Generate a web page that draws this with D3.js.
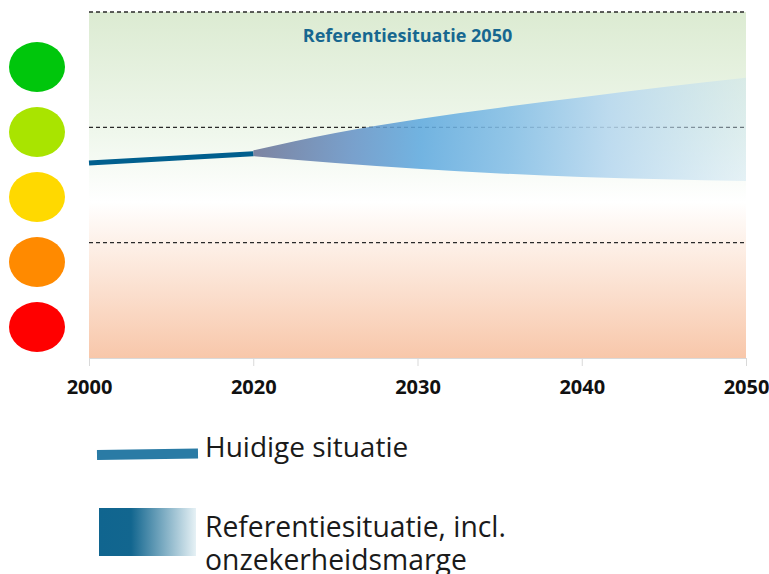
<!DOCTYPE html>
<html>
<head>
<meta charset="utf-8">
<script src="https://cdn.jsdelivr.net/npm/d3@7"></script>
<style>
  html, body { margin: 0; padding: 0; background: #fff; }
  svg { display: block; }
</style>
</head>
<body>
<div id="chart"></div>
<script>
// tick years on the x axis (equally spaced, not linear in time)
const tickYears = [2000, 2020, 2030, 2040, 2050];

// current situation line
const currentYears = [2000, 2020];
const currentValues = [1.69, 1.77];

// reference situation incl. uncertainty margin
const bandYears = [2020, 2025, 2030, 2035, 2040, 2045, 2050];
const bandUpper = [1.80, 1.95, 2.07, 2.17, 2.26, 2.35, 2.43];
const bandLower = [1.75, 1.69, 1.64, 1.60, 1.57, 1.55, 1.535];

// score classes (traffic light) and class boundaries
const classes = ["zeer goed", "goed", "matig", "ontoereikend", "slecht"];
const classColors = ["#00c60c", "#a9e400", "#ffd900", "#ff8a00", "#ff0000"];
const boundaries = [1, 2, 3];

const title = "Referentiesituatie 2050";
const legendLabels = ["Huidige situatie", ["Referentiesituatie, incl.", "onzekerheidsmarge"]];

const width = 769, height = 574;
const plot = { left: 89, right: 746, top: 12, bottom: 358 };

const svg = d3.select("#chart").append("svg")
  .attr("width", width)
  .attr("height", height);

const defs = svg.append("defs");

// background gradient: green on top, white in the middle, salmon at the bottom
const bg = defs.append("linearGradient").attr("id", "bg")
  .attr("x1", 0).attr("y1", 0).attr("x2", 0).attr("y2", 1);
bg.append("stop").attr("offset", "0%").attr("stop-color", "#dcebd2");
bg.append("stop").attr("offset", "35%").attr("stop-color", "#eff7ec");
bg.append("stop").attr("offset", "55%").attr("stop-color", "#ffffff");
bg.append("stop").attr("offset", "68%").attr("stop-color", "#fdefe6");
bg.append("stop").attr("offset", "100%").attr("stop-color", "#f8c7aa");

// band gradient, left to right
const bandGrad = defs.append("linearGradient").attr("id", "band")
  .attr("x1", 0).attr("y1", 0).attr("x2", 1).attr("y2", 0);
[["0%", "#6c7496", 1], ["20%", "#6894c7", 1], ["34%", "#60aadf", 1],
 ["52%", "#84bee6", 1], ["72%", "#b6d7ef", 1], ["100%", "#c4e0f0", 0.45]]
  .forEach(([o, c, a]) => bandGrad.append("stop").attr("offset", o)
    .attr("stop-color", c).attr("stop-opacity", a));

// legend gradient
const legGrad = defs.append("linearGradient").attr("id", "leg")
  .attr("x1", 0).attr("y1", 0).attr("x2", 1).attr("y2", 0);
legGrad.append("stop").attr("offset", "0%").attr("stop-color", "#10658f");
legGrad.append("stop").attr("offset", "33%").attr("stop-color", "#12668f");
legGrad.append("stop").attr("offset", "100%").attr("stop-color", "#e6f1f5");

// scales
const x = d3.scaleLinear()
  .domain(tickYears)
  .range(tickYears.map((d, i) => plot.left + i * (plot.right - plot.left) / (tickYears.length - 1)));
const y = d3.scaleLinear().domain([0, 3]).range([plot.bottom, plot.top]);
const yClass = d3.scalePoint().domain(classes).range([67, 327]);

// background
svg.append("rect")
  .attr("x", plot.left).attr("y", plot.top)
  .attr("width", plot.right - plot.left).attr("height", plot.bottom - plot.top)
  .attr("fill", "url(#bg)");

// dashed class boundaries
svg.append("g").selectAll("line").data(boundaries).join("line")
  .attr("x1", plot.left).attr("x2", plot.right)
  .attr("y1", d => y(d)).attr("y2", d => y(d))
  .attr("stroke", "#2a2a2a").attr("stroke-width", 1.4)
  .attr("stroke-dasharray", "4,3");

// x axis
const xAxis = svg.append("g")
  .attr("transform", `translate(0,${plot.bottom})`)
  .call(d3.axisBottom(x).tickValues(tickYears).tickFormat(d3.format("d")).tickSize(8).tickPadding(14));
xAxis.select(".domain").attr("stroke", "#d9d9d9");
xAxis.selectAll(".tick line").attr("stroke", "#d9d9d9");
xAxis.selectAll(".tick text")
  .attr("font-family", "'Open Sans', sans-serif")
  .attr("font-weight", 700)
  .attr("font-size", 20)
  .attr("fill", "#111");

// uncertainty band
const bandData = bandYears.map((d, i) => ({ year: d, lo: bandLower[i], hi: bandUpper[i] }));
svg.append("path")
  .datum(bandData)
  .attr("fill", "url(#band)")
  .attr("fill-opacity", 0.88)
  .attr("d", d3.area()
    .x(d => x(d.year))
    .y0(d => y(d.lo))
    .y1(d => y(d.hi))
    .curve(d3.curveMonotoneX));

// current situation line
const currentData = currentYears.map((d, i) => ({ year: d, value: currentValues[i] }));
svg.append("path")
  .datum(currentData)
  .attr("fill", "none")
  .attr("stroke", "#005f8e")
  .attr("stroke-width", 5)
  .attr("d", d3.line().x(d => x(d.year)).y(d => y(d.value)));

// title
svg.append("text")
  .attr("x", x(2030) - 10).attr("y", 42)
  .attr("text-anchor", "middle")
  .attr("font-family", "'Open Sans', sans-serif")
  .attr("font-weight", 700)
  .attr("font-size", 18)
  .attr("fill", "#176790")
  .text(title);

// traffic light circles
svg.append("g").selectAll("ellipse").data(classes).join("ellipse")
  .attr("cx", 37).attr("cy", d => yClass(d))
  .attr("rx", 28).attr("ry", 25)
  .attr("fill", (d, i) => classColors[i]);

// legend
const legend = svg.append("g");
legend.append("line")
  .attr("x1", 97).attr("y1", 455).attr("x2", 198).attr("y2", 453.6)
  .attr("stroke", "#2a7ba5").attr("stroke-width", 10);
legend.append("text")
  .attr("x", 205).attr("y", 457)
  .attr("font-family", "'Open Sans', sans-serif")
  .attr("font-size", 28).attr("fill", "#1a1a1a")
  .text(legendLabels[0]);

legend.append("rect")
  .attr("x", 99).attr("y", 508).attr("width", 97).attr("height", 48)
  .attr("fill", "url(#leg)");
legend.append("text")
  .attr("x", 205).attr("y", 537)
  .attr("font-family", "'Open Sans', sans-serif")
  .attr("font-size", 28.3).attr("fill", "#1a1a1a")
  .selectAll("tspan").data(legendLabels[1]).join("tspan")
  .attr("x", 205).attr("dy", (d, i) => i ? 33 : 0)
  .text(d => d);
</script>
</body>
</html>
